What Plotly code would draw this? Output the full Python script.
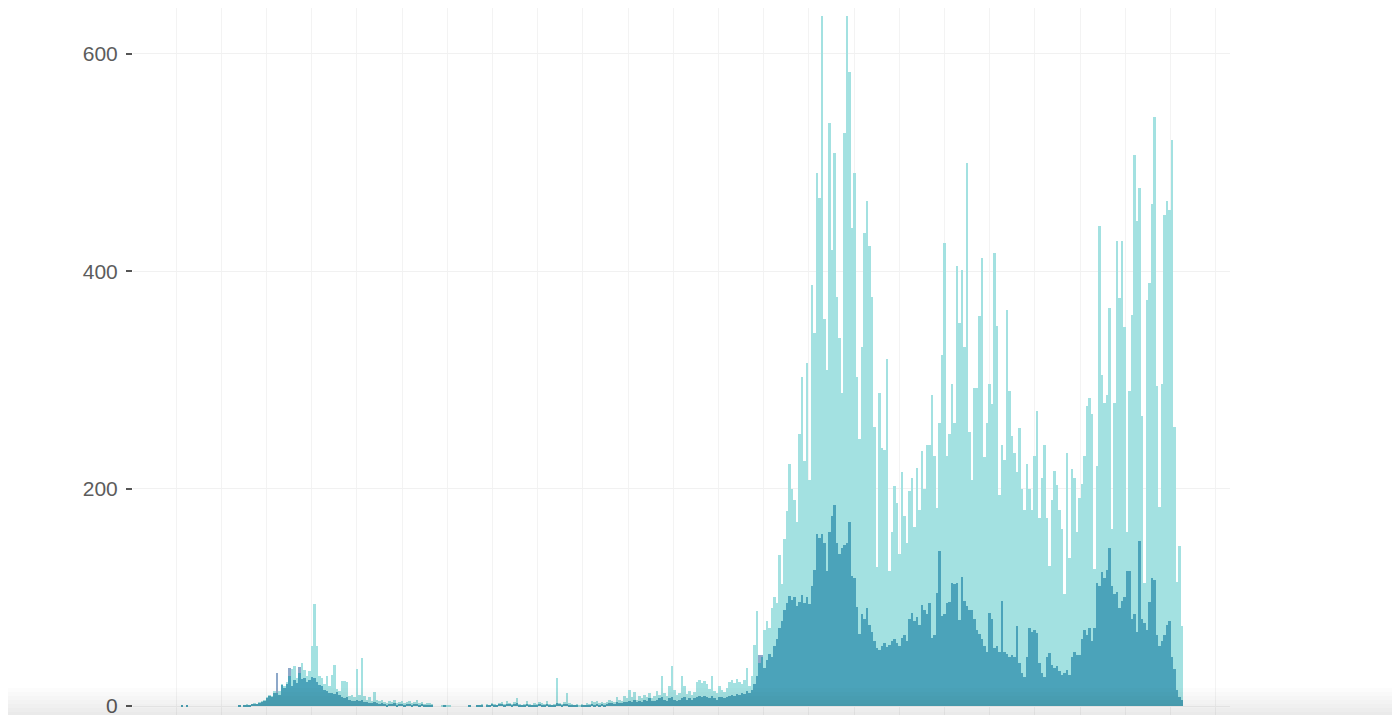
import numpy as np
import plotly.graph_objects as go

# Daily counts (light = total series, dark = subset series)
light_values = [
    0,1,0,1,0,0,0,0,0,0,0,0,0,0,0,0,0,0,0,0,
    0,0,0,0,1,0,1,2,1,2,3,2,4,5,6,8,10,9,14,12,
    14,20,18,22,28,34,37,26,30,40,33,28,32,55,94,55,28,26,20,28,
    18,29,38,16,14,23,23,22,9,10,8,34,10,44,9,6,8,5,13,6,
    5,6,4,3,5,4,6,3,4,5,3,4,5,3,4,6,3,4,2,3,
    3,2,0,0,0,1,1,1,1,0,0,0,0,0,0,0,1,0,0,1,
    1,2,0,2,1,3,2,1,3,4,2,5,3,2,4,7,2,1,2,5,
    2,1,3,2,4,3,2,5,2,1,2,26,3,2,4,12,3,2,1,2,
    1,2,1,3,2,5,4,5,3,4,3,4,6,5,4,8,6,5,9,7,
    15,8,13,6,9,7,10,8,12,7,9,14,10,28,12,9,18,37,15,10,
    12,28,18,11,14,10,13,22,24,21,23,20,16,28,14,12,18,15,13,17,
    22,24,21,25,22,20,24,35,18,28,56,87,40,45,70,78,72,90,100,95,
    139,112,154,179,223,200,190,169,250,303,225,316,208,387,343,490,467,635,356,309,
    536,420,509,376,339,288,527,635,583,440,490,303,246,330,435,465,423,376,257,128,
    288,237,236,319,124,160,202,187,140,215,175,150,198,210,165,219,180,235,200,240,
    240,286,230,182,260,323,426,230,250,296,260,405,352,401,330,500,252,208,293,293,
    359,412,229,260,296,278,417,350,194,240,226,364,290,248,233,215,256,200,180,223,
    200,180,230,271,173,210,240,173,129,190,216,203,180,163,103,233,136,218,210,160,
    191,204,230,276,283,269,126,221,442,305,279,286,366,163,279,428,375,428,349,160,
    290,360,507,446,477,267,113,374,389,462,542,294,183,296,452,465,456,521,257,114,147,74,
]
dark_values = [
    0,1,0,1,0,0,0,0,0,0,0,0,0,0,0,0,0,0,0,0,
    0,0,0,0,1,0,1,1,1,2,2,2,3,4,5,7,9,8,12,30,
    10,19,17,20,35,18,24,21,36,25,26,22,24,27,26,22,19,18,15,14,
    12,12,11,13,10,8,7,8,6,5,5,6,5,6,4,4,3,3,4,3,
    2,3,2,1,2,2,3,1,2,2,1,2,2,1,2,2,1,2,1,1,
    1,1,0,0,0,0,1,0,0,0,0,0,0,0,0,0,1,0,0,1,
    1,1,0,1,1,2,1,1,2,2,1,2,2,1,2,3,1,1,1,2,
    1,1,1,1,2,1,1,2,1,1,1,3,2,1,2,2,1,1,1,1,
    0,1,1,1,1,2,1,2,1,2,1,2,3,3,2,4,3,3,4,4,
    5,4,6,4,5,4,6,5,7,5,5,6,7,8,6,5,7,8,6,5,
    6,7,8,6,7,6,7,8,9,8,9,8,7,9,7,6,8,8,7,8,
    9,10,9,11,10,12,11,14,12,15,20,28,47,47,35,42,48,45,55,62,
    72,78,88,95,101,98,100,92,96,102,95,100,94,110,125,158,155,158,150,124,
    160,175,185,150,140,145,148,150,169,120,118,91,66,85,80,90,75,68,60,53,
    52,55,58,54,56,60,62,58,55,63,65,60,80,86,78,82,75,93,88,85,
    95,63,65,104,143,83,85,95,96,113,112,113,79,119,97,92,88,88,80,70,
    66,62,55,50,86,80,53,55,50,97,50,48,45,47,45,74,40,30,27,45,
    72,68,70,67,40,30,27,45,49,38,35,37,32,29,30,33,29,45,50,47,
    47,62,70,65,72,60,72,113,110,123,118,125,145,110,103,105,90,97,100,124,
    124,80,85,68,152,80,76,70,96,118,116,65,55,60,65,75,78,45,34,15,8,6,
]
y_ticks = [0, 200, 400, 600]
y_tick_labels = ["0", "200", "400", "600"]

light = np.array(light_values)
dark = np.array(dark_values)
days = np.arange(len(light))
overlap = np.minimum(light, dark)

LIGHT = "#a3e1e1"
DARK_ONLY = "#8da8c9"
OVERLAP = "#4ba3ba"

fig = go.Figure()
fig.add_trace(go.Bar(x=days, y=dark, marker=dict(color=DARK_ONLY, line=dict(width=0)),
                     width=1.0, hoverinfo="skip", name="dark"))
fig.add_trace(go.Bar(x=days, y=light, marker=dict(color=LIGHT, line=dict(width=0)),
                     width=1.0, hoverinfo="skip", name="light"))
fig.add_trace(go.Bar(x=days, y=overlap, marker=dict(color=OVERLAP, line=dict(width=0)),
                     width=1.0, hoverinfo="skip", name="overlap"))

# subtle grey shade at the very bottom of the frame
for k in range(7):
    fig.add_shape(type="rect", xref="paper", yref="paper", x0=-0.2, x1=1.2,
                  y0=0, y1=(3 + 4 * k) / 709, fillcolor="black", opacity=0.010,
                  line=dict(width=0), layer="above")

fig.update_layout(
    width=1392, height=709,
    margin=dict(l=125, r=170, t=0, b=0),
    paper_bgcolor="white", plot_bgcolor="white",
    barmode="overlay", bargap=0,
    showlegend=False,
    font=dict(family="Liberation Sans, Arial, sans-serif"),
)
fig.update_xaxes(
    range=[-18.5, 420.3], tick0=-1.3, dtick=18.08,
    showgrid=True, gridcolor="#f3f3f3", gridwidth=1,
    showticklabels=False, ticks="", zeroline=False, showline=False,
)
fig.update_yaxes(
    range=[-8.26, 642.2], tickvals=y_ticks, ticktext=y_tick_labels,
    showgrid=True, gridcolor="#f1f1f1", gridwidth=1,
    ticks="outside", ticklen=6, tickwidth=2, tickcolor="#555555",
    ticklabelstandoff=4, ticklabeloverflow="allow",
    tickfont=dict(size=21, color="#5c5c5c"),
    zeroline=False, showline=False,
)

fig.write_html("out.html")
